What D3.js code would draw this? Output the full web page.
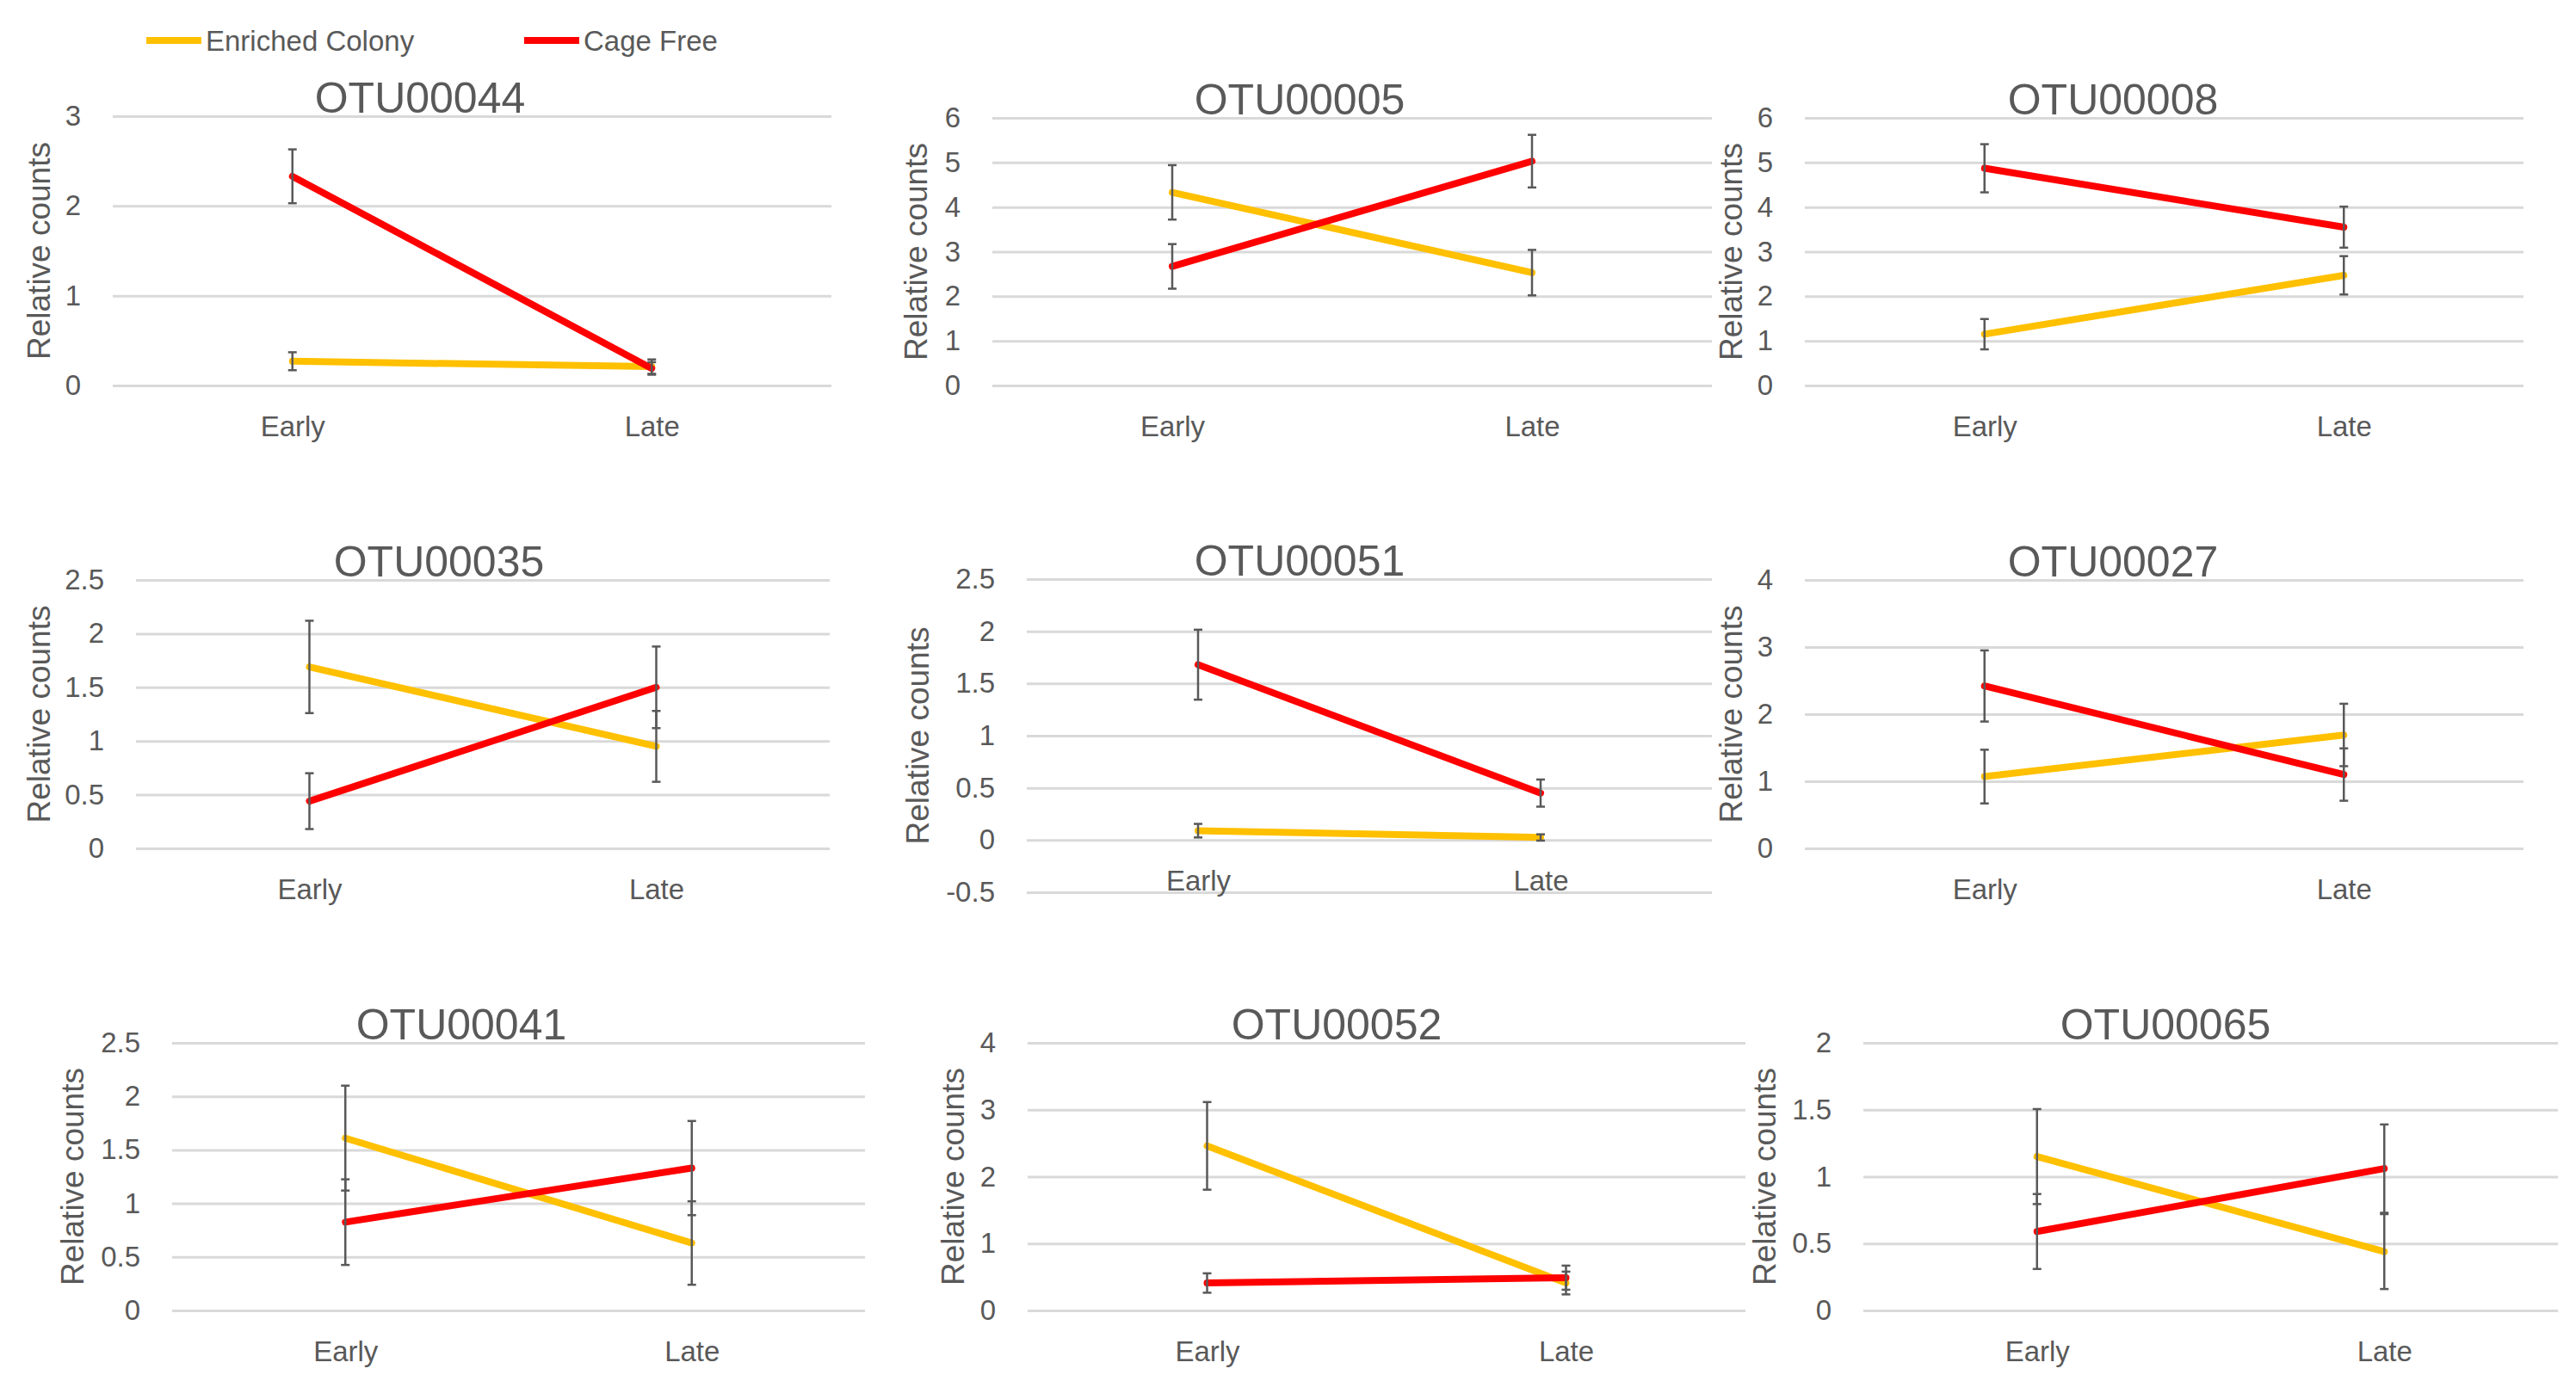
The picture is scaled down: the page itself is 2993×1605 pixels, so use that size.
<!DOCTYPE html>
<html>
<head>
<meta charset="utf-8">
<script src="https://cdn.jsdelivr.net/npm/d3@7"></script>
<style>
  body { margin: 0; background: #fff; }
  svg { display: block; font-family: "Liberation Sans", Arial, sans-serif; }
</style>
</head>
<body>
<div id="chart"></div>
<script>
/* global d3 */

// ---- data ----
var otus = [ "OTU00044", "OTU00005", "OTU00008",
             "OTU00035", "OTU00051", "OTU00027",
             "OTU00041", "OTU00052", "OTU00065" ];
var stages = [ "Early", "Late" ];
var seriesNames = [ "Enriched Colony", "Cage Free" ];

// [Early, Late] per OTU
var enrichedMean = [ [0.27, 0.21], [4.33, 2.53], [1.15, 2.47],
                     [1.69, 0.95], [0.09, 0.025], [1.07, 1.69],
                     [1.61, 0.63], [2.46, 0.41], [1.15, 0.44] ];
var enrichedErr  = [ [0.10, 0.08], [0.61, 0.51], [0.34, 0.43],
                     [0.43, 0.33], [0.065, 0.03], [0.40, 0.465],
                     [0.49, 0.39], [0.655, 0.17], [0.355, 0.28] ];
var cageMean     = [ [2.33, 0.19], [2.67, 5.03], [4.87, 3.55],
                     [0.44, 1.50], [1.68, 0.45], [2.42, 1.10],
                     [0.825, 1.33], [0.41, 0.49], [0.59, 1.06] ];
var cageErr      = [ [0.30, 0.07], [0.50, 0.59], [0.54, 0.46],
                     [0.26, 0.38], [0.335, 0.13], [0.53, 0.39],
                     [0.40, 0.44], [0.145, 0.18], [0.28, 0.33] ];

// y axis range and tick step per OTU
var yMin  = [ 0, 0, 0, 0, -0.5, 0, 0, 0, 0 ];
var yMax  = [ 3, 6, 6, 2.5, 2.5, 4, 2.5, 4, 2 ];
var yStep = [ 1, 1, 1, 0.5, 0.5, 1, 0.5, 1, 0.5 ];

// ---- layout (pixels) ----
var width = 2993, height = 1605;
var panels = [
  { x0: 131,  x1: 966,  top: 135,  bottom: 448,  titleX: 488,  labelX: 45 },
  { x0: 1153, x1: 1989, top: 137,  bottom: 448,  titleX: 1510, labelX: 1064 },
  { x0: 2097, x1: 2932, top: 137,  bottom: 448,  titleX: 2455, labelX: 2011 },
  { x0: 158,  x1: 964,  top: 674,  bottom: 986,  titleX: 510,  labelX: 45 },
  { x0: 1193, x1: 1989, top: 673,  bottom: 1037, titleX: 1510, labelX: 1066 },
  { x0: 2097, x1: 2932, top: 674,  bottom: 986,  titleX: 2455, labelX: 2011 },
  { x0: 200,  x1: 1005, top: 1212, bottom: 1523, titleX: 536,  labelX: 84 },
  { x0: 1194, x1: 2028, top: 1212, bottom: 1523, titleX: 1553, labelX: 1107 },
  { x0: 2165, x1: 2972, top: 1212, bottom: 1523, titleX: 2516, labelX: 2050 }
];

var textColor = "#595959",
    gridColor = "#d9d9d9",
    colors = [ "#ffc000", "#ff0000" ];

var svg = d3.select( "#chart" ).append( "svg" )
  .attr( "width", width )
  .attr( "height", height );

svg.append( "rect" ).attr( "width", width ).attr( "height", height ).attr( "fill", "#fff" );

// Legend
var legend = svg.append( "g" ).attr( "transform", "translate(0,47)" );
var legendX = [ 170, 609 ];
seriesNames.forEach( function( name, i ) {
  legend.append( "line" )
    .attr( "x1", legendX[ i ] ).attr( "x2", legendX[ i ] + 64 )
    .attr( "stroke", colors[ i ] ).attr( "stroke-width", 8 );
  legend.append( "text" )
    .attr( "x", legendX[ i ] + 69 )
    .attr( "dy", "0.35em" )
    .attr( "fill", textColor )
    .style( "font-size", "33px" )
    .text( name );
} );

function fmt( d ) { return String( Math.round( d * 10 ) / 10 ); }

otus.forEach( function( otu, i ) {
  var p = panels[ i ];
  var g = svg.append( "g" );

  var x = d3.scalePoint().domain( stages ).range( [ p.x0, p.x1 ] ).padding( 0.5 );
  var y = d3.scaleLinear().domain( [ yMin[ i ], yMax[ i ] ] ).range( [ p.bottom, p.top ] );
  var ticks = d3.range( yMin[ i ], yMax[ i ] + yStep[ i ] / 2, yStep[ i ] );

  // gridlines + tick labels
  var yAxis = g.append( "g" )
    .attr( "transform", "translate(" + p.x0 + ",0)" )
    .call( d3.axisLeft( y )
      .tickValues( ticks )
      .tickFormat( fmt )
      .tickSizeInner( -( p.x1 - p.x0 ) )
      .tickSizeOuter( 0 )
      .tickPadding( 37 ) );
  yAxis.select( ".domain" ).remove();
  yAxis.selectAll( "line" ).attr( "stroke", gridColor ).attr( "stroke-width", 3 );
  yAxis.selectAll( "text" )
    .attr( "fill", textColor )
    .style( "font-size", "33px" )
    .style( "font-family", "inherit" );

  // category labels
  var xAxis = g.append( "g" )
    .attr( "transform", "translate(0," + y( 0 ) + ")" )
    .call( d3.axisBottom( x ).tickSize( 0 ) );
  xAxis.select( ".domain" ).remove();
  xAxis.selectAll( "text" )
    .attr( "y", 59 ).attr( "dy", 0 )
    .attr( "fill", textColor )
    .style( "font-size", "33px" )
    .style( "font-family", "inherit" );

  // title
  g.append( "text" )
    .attr( "x", p.titleX ).attr( "y", p.top - 4 )
    .attr( "text-anchor", "middle" )
    .attr( "fill", textColor )
    .style( "font-size", "50px" )
    .text( otu );

  // y label
  g.append( "text" )
    .attr( "transform", "translate(" + p.labelX + "," + ( p.top + p.bottom ) / 2 + ") rotate(-90)" )
    .attr( "text-anchor", "middle" )
    .attr( "dy", "0.35em" )
    .attr( "fill", textColor )
    .style( "font-size", "37px" )
    .text( "Relative counts" );

  var series = [
    { mean: enrichedMean[ i ], err: enrichedErr[ i ], color: colors[ 0 ] },
    { mean: cageMean[ i ], err: cageErr[ i ], color: colors[ 1 ] }
  ];

  var line = d3.line()
    .x( function( d, j ) { return x( stages[ j ] ); } )
    .y( function( d ) { return y( d ); } );

  series.forEach( function( s ) {
    g.append( "path" )
      .datum( s.mean )
      .attr( "d", line )
      .attr( "fill", "none" )
      .attr( "stroke", s.color )
      .attr( "stroke-width", 8 )
      .attr( "stroke-linecap", "round" );

    var bars = g.append( "g" )
      .attr( "stroke", textColor )
      .attr( "stroke-width", 2.5 )
      .selectAll( "g" )
      .data( stages )
      .enter().append( "g" );

    bars.append( "line" )
      .attr( "x1", function( d ) { return x( d ); } )
      .attr( "x2", function( d ) { return x( d ); } )
      .attr( "y1", function( d, j ) { return y( s.mean[ j ] + s.err[ j ] ); } )
      .attr( "y2", function( d, j ) { return y( s.mean[ j ] - s.err[ j ] ); } );

    [ 1, -1 ].forEach( function( sign ) {
      bars.append( "line" )
        .attr( "x1", function( d ) { return x( d ) - 5; } )
        .attr( "x2", function( d ) { return x( d ) + 5; } )
        .attr( "y1", function( d, j ) { return y( s.mean[ j ] + sign * s.err[ j ] ); } )
        .attr( "y2", function( d, j ) { return y( s.mean[ j ] + sign * s.err[ j ] ); } );
    } );
  } );
} );
</script>
</body>
</html>
